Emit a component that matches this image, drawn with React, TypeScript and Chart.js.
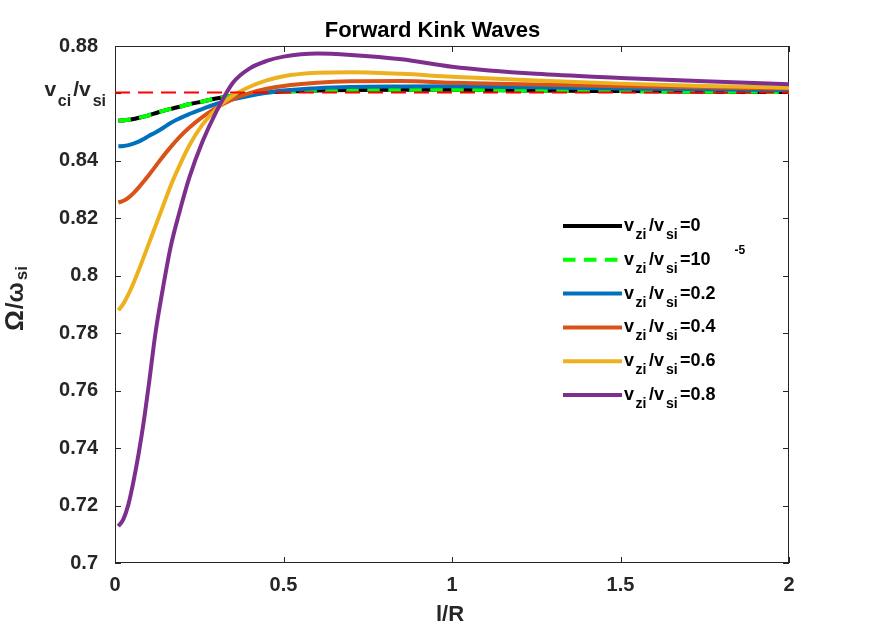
import { useEffect, useRef } from "react";
import { Chart, registerables } from "chart.js";

Chart.register(...registerables);

// l/R sample points shared by all curves
const lValues = [0.01, 0.025, 0.04, 0.055, 0.07, 0.085, 0.1, 0.12, 0.14, 0.165, 0.19, 0.22, 0.26, 0.3, 0.35, 0.4, 0.45, 0.5, 0.6, 0.7, 0.85, 1.0, 1.25, 1.5, 1.75, 2.0];

// Omega/omega_si for each v_zi/v_si
const omegaVz0 = [0.854, 0.8541, 0.8543, 0.8546, 0.855, 0.8554, 0.8559, 0.8566, 0.8573, 0.8581, 0.8588, 0.8597, 0.8607, 0.8617, 0.8627, 0.8634, 0.8639, 0.8642, 0.8645, 0.8647, 0.8648, 0.8648, 0.8645, 0.8643, 0.8641, 0.864];
const omegaVz1e5 = [0.854, 0.8541, 0.8543, 0.8546, 0.855, 0.8554, 0.8559, 0.8566, 0.8573, 0.8581, 0.8588, 0.8597, 0.8607, 0.8617, 0.8627, 0.8634, 0.8639, 0.8642, 0.8645, 0.8647, 0.8648, 0.8648, 0.8645, 0.8643, 0.8641, 0.864];
const omegaVz02 = [0.8451, 0.8452, 0.8455, 0.846, 0.8467, 0.8476, 0.8487, 0.8499, 0.8513, 0.8532, 0.8547, 0.8563, 0.8581, 0.8598, 0.8614, 0.8627, 0.8637, 0.8645, 0.8653, 0.8657, 0.8659, 0.866, 0.8656, 0.8652, 0.8649, 0.8646];
const omegaVz04 = [0.8255, 0.8261, 0.8272, 0.8288, 0.8307, 0.8328, 0.835, 0.8381, 0.8412, 0.8448, 0.8481, 0.8515, 0.8553, 0.8584, 0.8615, 0.8636, 0.8651, 0.8661, 0.8672, 0.8677, 0.8678, 0.8672, 0.8666, 0.866, 0.8656, 0.8652];
const omegaVz06 = [0.788, 0.7903, 0.7936, 0.7975, 0.8018, 0.8064, 0.8111, 0.8173, 0.8235, 0.8313, 0.838, 0.8453, 0.8527, 0.858, 0.8627, 0.8658, 0.868, 0.8695, 0.8707, 0.8709, 0.8703, 0.8693, 0.868, 0.8669, 0.8661, 0.8655];
const omegaVz08 = [0.7128, 0.7153, 0.7205, 0.7285, 0.738, 0.749, 0.7618, 0.78, 0.7942, 0.81, 0.8216, 0.834, 0.8468, 0.857, 0.8672, 0.8722, 0.8748, 0.8763, 0.8774, 0.8769, 0.8754, 0.8728, 0.8703, 0.8689, 0.8677, 0.8667];

// v_ci/v_si reference level
const vciRatio = 0.8638;
const vciRange = [0, 2];

const xTicks = [0, 0.5, 1, 1.5, 2];
const yTicks = [0.7, 0.72, 0.74, 0.76, 0.78, 0.8, 0.82, 0.84, vciRatio, 0.88];

const FAMILY = '"Liberation Sans", Arial, Helvetica, sans-serif';
const AXIS_COLOR = "#262626";

type Part = { text: string; size: number; dy: number; gap?: number };

const fontOf = (size: number) => `bold ${size}px ${FAMILY}`;

function partsWidth(ctx: CanvasRenderingContext2D, parts: Part[]) {
    let w = 0;
    for (const p of parts) {
        ctx.font = fontOf(p.size);
        w += ctx.measureText(p.text).width + (p.gap ?? 0);
    }
    return w;
}

function drawParts(ctx: CanvasRenderingContext2D, parts: Part[], x: number, y: number, align: "left" | "right" | "center") {
    const w = partsWidth(ctx, parts);
    let cx = align === "left" ? x : align === "right" ? x - w : x - w / 2;
    ctx.textAlign = "left";
    ctx.textBaseline = "alphabetic";
    for (const p of parts) {
        ctx.font = fontOf(p.size);
        ctx.fillText(p.text, cx, y + p.dy);
        cx += ctx.measureText(p.text).width + (p.gap ?? 0);
    }
}

const series = [
    { values: omegaVz0, color: "#000000", dash: [] as number[], value: "0" },
    { values: omegaVz1e5, color: "#00ff00", dash: [12.5, 8.5], value: "10" },
    { values: omegaVz02, color: "#0072bd", dash: [] as number[], value: "0.2" },
    { values: omegaVz04, color: "#d95319", dash: [] as number[], value: "0.4" },
    { values: omegaVz06, color: "#edb120", dash: [] as number[], value: "0.6" },
    { values: omegaVz08, color: "#7e2f8e", dash: [] as number[], value: "0.8" },
];

const decorPlugin = {
    id: "decor",
    beforeDatasetsDraw(chart: Chart) {
        const ctx = chart.ctx;
        const { left, right, top, bottom } = chart.chartArea;
        const xs = chart.scales.x;
        const ys = chart.scales.y;
        ctx.save();
        ctx.strokeStyle = AXIS_COLOR;
        ctx.lineWidth = 1;
        ctx.strokeRect(left + 0.5, top + 0.5, right - left - 1, bottom - top - 1);
        ctx.beginPath();
        for (const t of xTicks) {
            const px = Math.round(xs.getPixelForValue(t)) + 0.5;
            ctx.moveTo(px, bottom);
            ctx.lineTo(px, bottom - 6);
            ctx.moveTo(px, top);
            ctx.lineTo(px, top + 6);
        }
        for (const t of yTicks) {
            const py = Math.round(ys.getPixelForValue(t)) + 0.5;
            ctx.moveTo(left, py);
            ctx.lineTo(left + 6, py);
            ctx.moveTo(right, py);
            ctx.lineTo(right - 6, py);
        }
        ctx.stroke();
        ctx.restore();
    },
    afterDraw(chart: Chart) {
        const ctx = chart.ctx;
        const { left, right, top, bottom } = chart.chartArea;
        const ys = chart.scales.y;
        ctx.save();

        // title
        ctx.fillStyle = "#000000";
        ctx.font = fontOf(22);
        ctx.textAlign = "center";
        ctx.textBaseline = "alphabetic";
        ctx.fillText("Forward Kink Waves", 432.5, 37);

        // x axis title
        ctx.fillStyle = AXIS_COLOR;
        ctx.fillText("l/R", (left + right) / 2 - 2, 621);

        // y axis title, rotated
        ctx.save();
        ctx.translate(23, (top + bottom) / 2 - 6);
        ctx.rotate(-Math.PI / 2);
        drawParts(ctx, [
            { text: "Ω", size: 26, dy: 0, gap: 1 },
            { text: "/ω", size: 24, dy: 0, gap: 2 },
            { text: "si", size: 17, dy: 4 },
        ], 0, 0, "center");
        ctx.restore();

        // v_ci/v_si tick label
        const vy = ys.getPixelForValue(vciRatio);
        drawParts(ctx, [
            { text: "v", size: 21, dy: 0, gap: 1.5 },
            { text: "ci", size: 16, dy: 10, gap: 2 },
            { text: "/v", size: 21, dy: 0, gap: 2 },
            { text: "si", size: 16, dy: 10 },
        ], 106, vy + 3, "right");

        // legend
        const rowY0 = 226;
        const rowStep = 33.8;
        series.forEach((s, i) => {
            const ry = rowY0 + i * rowStep;
            ctx.strokeStyle = s.color;
            ctx.lineWidth = 4;
            ctx.setLineDash(s.dash);
            ctx.beginPath();
            ctx.moveTo(563, ry);
            ctx.lineTo(622, ry);
            ctx.stroke();
            ctx.setLineDash([]);
            ctx.fillStyle = "#000000";
            const parts: Part[] = [
                { text: "v", size: 18, dy: 0, gap: 1.5 },
                { text: "zi", size: 14, dy: 8, gap: 2.5 },
                { text: "/v", size: 18, dy: 0, gap: 2 },
                { text: "si", size: 14, dy: 8, gap: 2.5 },
                { text: "=" + s.value, size: 18, dy: 0 },
            ];
            if (s.value === "10") {
                parts[parts.length - 1].gap = 24;
                parts.push({ text: "-5", size: 12, dy: -11 });
            }
            drawParts(ctx, parts, 624, ry + 5, "left");
        });
        ctx.restore();
    },
};

export default function App() {
    const canvasRef = useRef<HTMLCanvasElement>(null);

    useEffect(() => {
        if (!canvasRef.current) return;
        const ctx = canvasRef.current.getContext("2d");
        if (!ctx) return;

        const datasets: any[] = series.map((s, i) => ({
            label: "v_zi/v_si=" + s.value,
            data: lValues.map((l, j) => ({ x: l, y: s.values[j] })),
            borderColor: s.color,
            borderWidth: 4,
            borderDash: s.dash,
            pointRadius: 0,
            fill: false,
            showLine: true,
            cubicInterpolationMode: "monotone",
            order: 6 - i + 1,
        }));
        datasets.push({
            label: "v_ci/v_si",
            data: vciRange.map((l) => ({ x: l, y: vciRatio })),
            borderColor: "#ff0000",
            borderWidth: 2,
            borderDash: [15, 8],
            pointRadius: 0,
            fill: false,
            showLine: true,
            order: 0,
        });

        const chartInstance = new Chart(ctx, {
            type: "scatter",
            data: { datasets },
            options: {
                responsive: false,
                animation: false,
                layout: { padding: { left: 0, top: 46, right: 83, bottom: 0 } },
                plugins: {
                    legend: { display: false },
                    title: { display: false },
                    tooltip: { enabled: false },
                },
                scales: {
                    x: {
                        type: "linear",
                        min: 0,
                        max: 2,
                        afterBuildTicks: (scale: any) => {
                            scale.ticks = xTicks.map((v) => ({ value: v }));
                        },
                        afterFit: (scale: any) => {
                            scale.height = 69;
                        },
                        ticks: {
                            autoSkip: false,
                            maxRotation: 0,
                            padding: 10,
                            color: AXIS_COLOR,
                            font: { family: FAMILY, size: 20, weight: "bold" },
                            callback: (v: any) => String(Number(Number(v).toFixed(2))),
                        },
                        grid: { display: false, drawTicks: false },
                        border: { display: false },
                    },
                    y: {
                        type: "linear",
                        min: 0.7,
                        max: 0.88,
                        afterBuildTicks: (scale: any) => {
                            scale.ticks = yTicks.map((v) => ({ value: v }));
                        },
                        afterFit: (scale: any) => {
                            scale.width = 115;
                        },
                        ticks: {
                            autoSkip: false,
                            padding: 17,
                            color: AXIS_COLOR,
                            font: { family: FAMILY, size: 20, weight: "bold" },
                            callback: (v: any) => (Math.abs(Number(v) - vciRatio) < 1e-6 ? "" : String(Number(Number(v).toFixed(2)))),
                        },
                        grid: { display: false, drawTicks: false },
                        border: { display: false },
                    },
                },
            },
            plugins: [decorPlugin],
        } as any);

        return () => {
            chartInstance.destroy();
        };
    }, []);

    return (
        <div style={{ position: "fixed", left: 0, top: 0, width: 872, height: 632, background: "#ffffff" }}>
            <canvas ref={canvasRef} width={872} height={632} />
        </div>
    );
}
